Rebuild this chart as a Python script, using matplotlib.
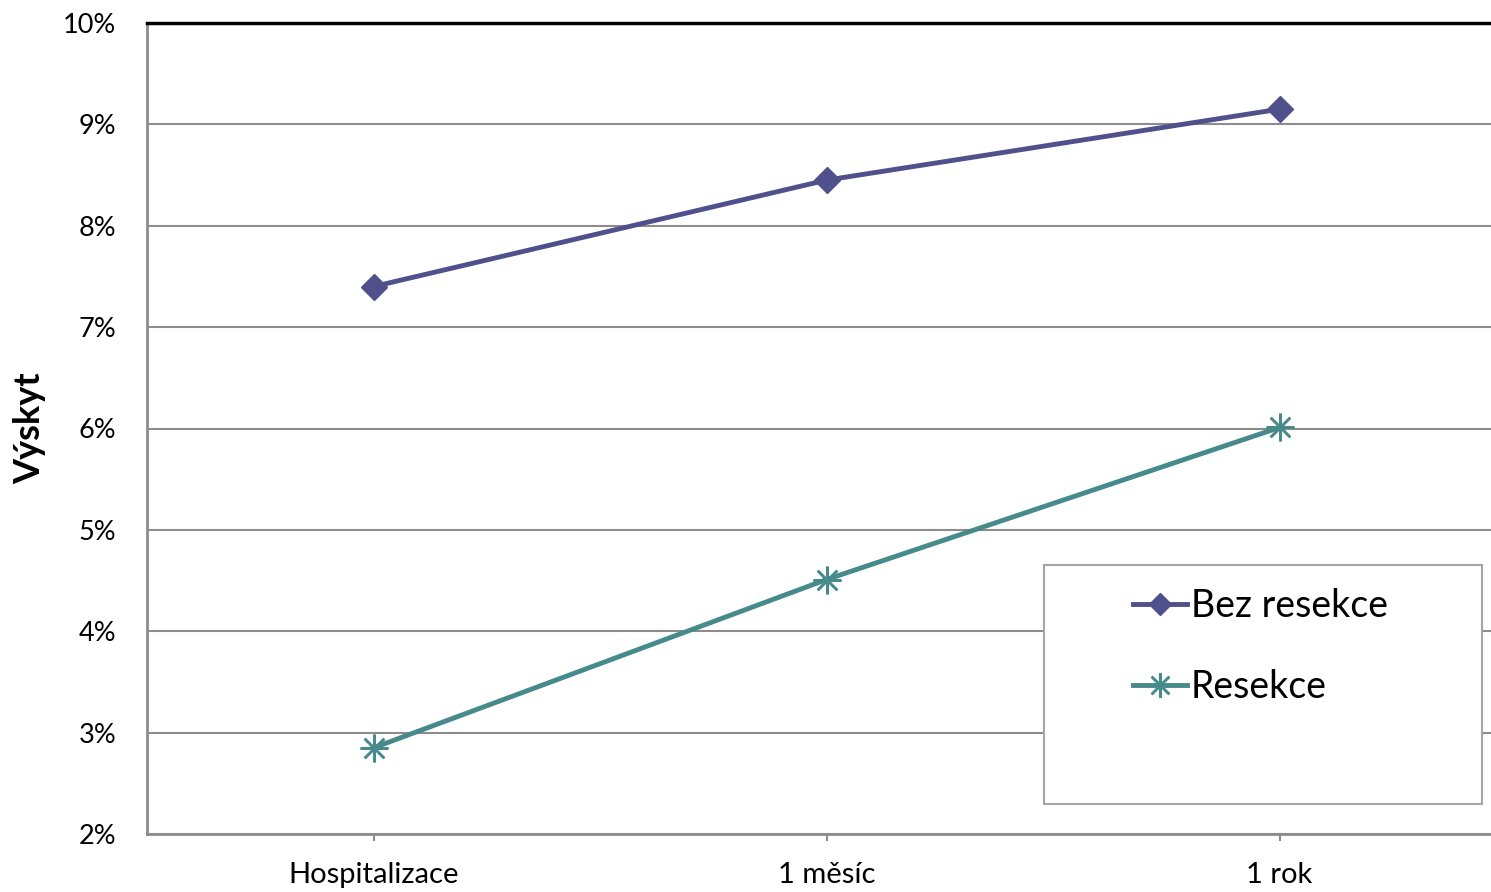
import numpy as np
import matplotlib.pyplot as plt
from matplotlib.patches import Rectangle
from matplotlib.ticker import FuncFormatter

plt.rcParams['font.family'] = ['Lato', 'DejaVu Sans']

categories = ['Hospitalizace', '1 měsíc', '1 rok']
bez_resekce = [7.40, 8.45, 9.15]
resekce = [2.85, 4.51, 6.01]

W, H = 1491, 892
fig = plt.figure(figsize=(W / 100, H / 100), dpi=100)
# plot area runs a little past the right edge of the figure
left, right, top, bottom = 147, 1506, 23, 834
ax = fig.add_axes([left / W, 1 - bottom / H, (right - left) / W, (bottom - top) / H])

x = np.arange(len(categories))
ax.plot(x, bez_resekce, color='#50508C', lw=3.5, marker='D', ms=13,
        label='Bez resekce', zorder=3)
ax.plot(x, resekce, color='#468A8C', lw=3.5, marker=(8, 2, 0), ms=20,
        mew=1.8, label='Resekce', zorder=3)

ax.set_xlim(-0.5, len(categories) - 0.5)
ax.set_ylim(2, 10)
ax.set_yticks(range(2, 11))
ax.yaxis.set_major_formatter(FuncFormatter(lambda v, _: f'{v:.0f}%'))
ax.set_xticks(x)
ax.set_xticklabels(categories)
ax.grid(axis='y', color='#8c8c8c', lw=1.5)
ax.set_axisbelow(True)

for s in ['left', 'bottom']:
    ax.spines[s].set_color('#8c8c8c')
    ax.spines[s].set_linewidth(2)
ax.spines['right'].set_visible(False)
ax.spines['top'].set_color('black')
ax.spines['top'].set_linewidth(2.5)

ax.tick_params(axis='y', length=0, pad=22, labelsize=19.5)
ax.tick_params(axis='x', length=5, width=1.5, color='#8c8c8c', pad=15, labelsize=21)
ax.set_ylabel('Výskyt', fontsize=26, fontweight='bold', labelpad=12)

# legend box drawn separately so its size is fixed
fig.patches.append(Rectangle((1044 / W, 1 - 804 / H), (1482 - 1044) / W, (804 - 565) / H,
                             transform=fig.transFigure, facecolor='white',
                             edgecolor='#a6a6a6', lw=1.5, zorder=4))
leg = fig.legend(loc='upper left', bbox_to_anchor=(1133 / W, 1 - 588 / H),
                 frameon=False, fontsize=27, handlelength=1.45,
                 handletextpad=0.1, labelspacing=1.2, borderpad=0,
                 borderaxespad=0, markerscale=0.9)
leg.set_zorder(5)

fig.savefig('out.png', dpi=100)
